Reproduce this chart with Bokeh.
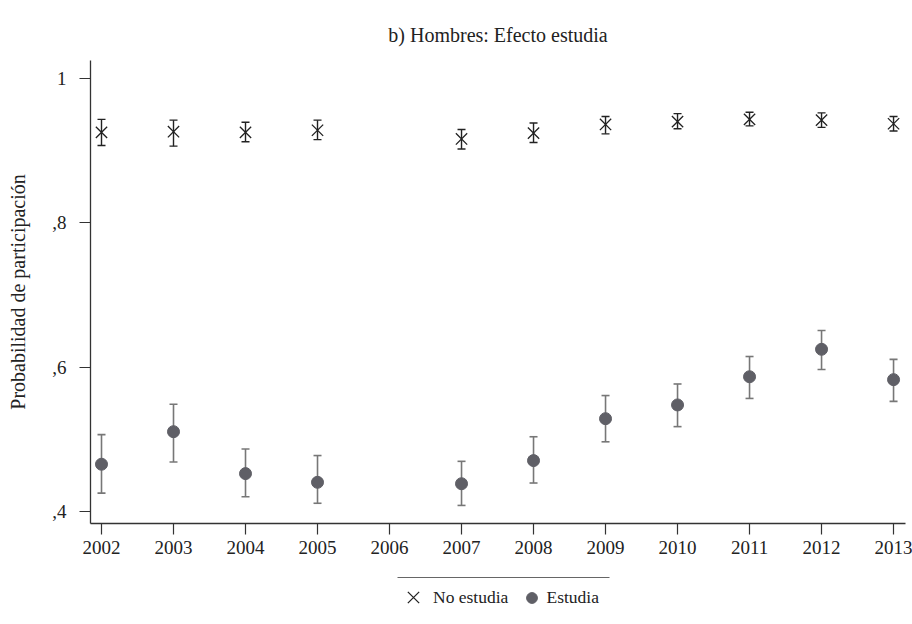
from bokeh.plotting import figure
from bokeh.models import (Range1d, FixedTicker, Whisker, ColumnDataSource, Legend,
                          LegendItem, TeeHead)
from bokeh.layouts import column
from bokeh.embed import file_html
from bokeh.resources import INLINE

years = ["2002", "2003", "2004", "2005", "2006", "2007", "2008", "2009", "2010", "2011", "2012", "2013"]
data_years = ["2002", "2003", "2004", "2005", "2007", "2008", "2009", "2010", "2011", "2012", "2013"]

no_est = [0.925, 0.926, 0.925, 0.928, 0.916, 0.924, 0.936, 0.940, 0.943, 0.942, 0.937]
no_est_lo = [0.907, 0.906, 0.912, 0.915, 0.902, 0.911, 0.923, 0.930, 0.934, 0.932, 0.927]
no_est_hi = [0.943, 0.942, 0.939, 0.942, 0.929, 0.938, 0.947, 0.951, 0.953, 0.952, 0.947]

est = [0.466, 0.511, 0.453, 0.441, 0.439, 0.471, 0.529, 0.548, 0.587, 0.625, 0.583]
est_lo = [0.426, 0.469, 0.421, 0.412, 0.409, 0.440, 0.497, 0.518, 0.557, 0.597, 0.553]
est_hi = [0.507, 0.549, 0.487, 0.478, 0.470, 0.504, 0.561, 0.577, 0.615, 0.651, 0.611]

y_ticks = [0.4, 0.6, 0.8, 1.0]
y_tick_labels = [",4", ",6", ",8", "1"]

FONT = "Liberation Serif"
TXT = "#222222"
DARK = "#222222"
GREY = "#5f5f66"
GREY_BAR = "#777777"

xpos = [years.index(y) for y in data_years]

src_no = ColumnDataSource(dict(x=xpos, y=no_est, lo=no_est_lo, hi=no_est_hi))
src_es = ColumnDataSource(dict(x=xpos, y=est, lo=est_lo, hi=est_hi))

p = figure(width=912, height=558, output_backend="svg", toolbar_location=None,
           x_range=Range1d(-0.1528, 11.166), y_range=Range1d(0.384, 1.0245),
           min_border_left=90, min_border_right=7, min_border_bottom=35, min_border_top=60,
           title="b) Hombres: Efecto estudia")
p.outline_line_color = None
p.xgrid.visible = False
p.ygrid.visible = False

p.title.align = "center"
p.title.text_font = FONT
p.title.text_font_style = "normal"
p.title.text_font_size = "20px"
p.title.text_color = TXT
p.title.standoff = 30

p.xaxis.ticker = FixedTicker(ticks=list(range(len(years))))
p.xaxis.major_label_overrides = {i: y for i, y in enumerate(years)}
p.yaxis.ticker = FixedTicker(ticks=y_ticks)
p.yaxis.major_label_overrides = {t: l for t, l in zip(y_ticks, y_tick_labels)}
for ax in (p.xaxis, p.yaxis):
    ax.axis_line_color = "#333333"
    ax.axis_line_width = 1.3
    ax.major_tick_line_color = "#333333"
    ax.major_tick_line_width = 1.2
    ax.major_tick_out = 11
    ax.major_tick_in = 0
    ax.minor_tick_line_color = None
    ax.major_label_text_font = FONT
    ax.major_label_text_font_size = "19px"
    ax.major_label_text_color = TXT
    ax.axis_label_text_font = FONT
    ax.axis_label_text_font_size = "20px"
    ax.axis_label_text_font_style = "normal"
    ax.axis_label_text_color = TXT
p.xaxis.major_label_standoff = 6
p.yaxis.major_label_standoff = 13
p.yaxis.major_label_orientation = "horizontal"
p.yaxis.axis_label = "Probabilidad de participación"
p.yaxis.axis_label_standoff = 20

w1 = Whisker(source=src_no, base="x", upper="hi", lower="lo", line_color=DARK, line_width=1.4,
             upper_head=TeeHead(size=8, line_color=DARK, line_width=1.4),
             lower_head=TeeHead(size=8, line_color=DARK, line_width=1.4))
w2 = Whisker(source=src_es, base="x", upper="hi", lower="lo", line_color=GREY_BAR, line_width=1.6,
             upper_head=TeeHead(size=8, line_color=GREY_BAR, line_width=1.6),
             lower_head=TeeHead(size=8, line_color=GREY_BAR, line_width=1.6))
p.add_layout(w1)
p.add_layout(w2)

p.scatter("x", "y", source=src_no, marker="x", size=16, line_color=DARK, line_width=1.3)
p.scatter("x", "y", source=src_es, marker="circle", size=12, fill_color=GREY, line_color=GREY)

# legend panel below the chart (its frame is aligned with the chart frame: 90..905 px)
LH = 66
q = figure(width=912, height=LH, output_backend="svg", toolbar_location=None,
           x_range=Range1d(90, 905), y_range=Range1d(0, LH),
           x_axis_location=None, y_axis_location=None,
           min_border_left=90, min_border_right=7, min_border_top=0, min_border_bottom=0)
q.grid.visible = False
q.outline_line_color = None
q.segment(x0=[397], y0=[LH - 19], x1=[609], y1=[LH - 19], line_color="#666666", line_width=1.2)
l_no = q.scatter(x=[-100], y=[-100], marker="x", size=16, line_color=DARK, line_width=1.3)
l_es = q.scatter(x=[-100], y=[-100], marker="circle", size=12, fill_color=GREY, line_color=GREY)
common = dict(orientation="horizontal", label_text_font=FONT, label_text_font_size="17.5px",
              label_text_color=TXT, background_fill_alpha=0, border_line_color=None,
              padding=0, margin=0)
leg1 = Legend(items=[LegendItem(label="No estudia", renderers=[l_no])],
              location=(303, 7), glyph_width=40, glyph_height=40, label_standoff=-3, **common)
leg2 = Legend(items=[LegendItem(label="Estudia", renderers=[l_es])],
              location=(427.5, 13.5), glyph_width=27, glyph_height=27, label_standoff=2, **common)
q.add_layout(leg1, "center")
q.add_layout(leg2, "center")

layout = column(p, q, spacing=0)
open("out.html", "w").write(file_html(layout, INLINE))
